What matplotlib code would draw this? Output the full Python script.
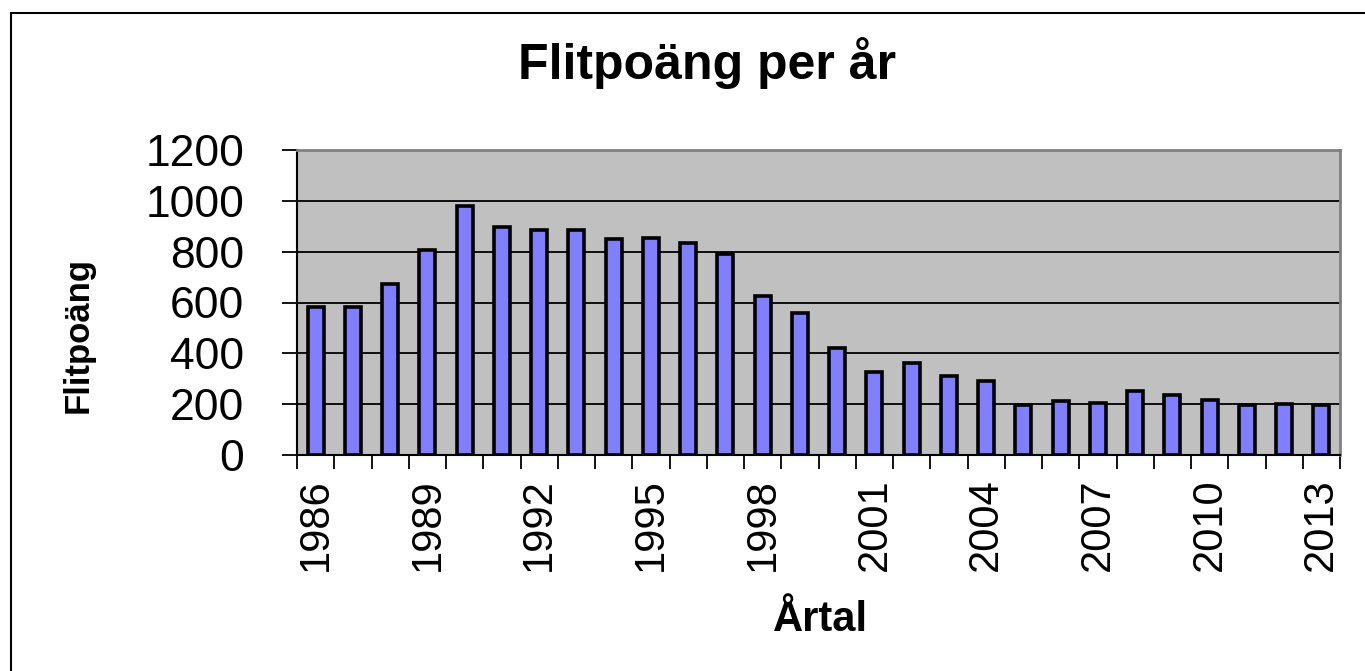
import matplotlib.pyplot as plt
import numpy as np
from matplotlib.patches import Rectangle

plt.rcParams['font.family'] = ['Liberation Sans', 'DejaVu Sans']

years = list(range(1986, 2014))
points = [583, 583, 672, 808, 979, 898, 884, 884, 848, 854,
          834, 792, 624, 558, 421, 328, 362, 311, 293, 195,
          213, 205, 252, 237, 218, 195, 201, 195]
yticks = [0, 200, 400, 600, 800, 1000, 1200]

fig = plt.figure(figsize=(13.65, 6.71), dpi=100)
ax = fig.add_axes([297 / 1365, 1 - 455 / 671, (1340 - 297) / 1365, (455 - 150) / 671])

x = np.arange(len(years))
ax.set_facecolor('#C0C0C0')
ax.bar(x, points, width=0.43, color='#8080FF', edgecolor='black', linewidth=2.6, zorder=3)

ax.set_xlim(-0.5, len(years) - 0.5)
ax.set_ylim(0, 1200)
ax.set_yticks(yticks)
ax.set_yticklabels([str(v) for v in yticks], fontsize=32)
ax.yaxis.grid(True, color='black', linewidth=1.3, zorder=1)
ax.set_axisbelow(True)
ax.tick_params(axis='y', length=11, width=1.3, pad=27, direction='out')

# labels centred on every third category, tick marks on category boundaries
ax.set_xticks(x[::3])
ax.set_xticklabels([str(y) for y in years[::3]], rotation=90, fontsize=30)
ax.tick_params(axis='x', which='major', length=0, pad=17)
ax.set_xticks(np.arange(-0.5, len(years)), minor=True)
ax.tick_params(axis='x', which='minor', length=10, width=1.3, direction='out')

for s in ['left', 'bottom']:
    ax.spines[s].set_color('black')
    ax.spines[s].set_linewidth(1.5)
for s in ['top', 'right']:
    ax.spines[s].set_color('#808080')
    ax.spines[s].set_linewidth(2)

fig.text(707 / 1365, 1 - 63 / 671, 'Flitpoäng per år', fontsize=36, fontweight='bold',
         ha='center', va='center')
fig.text(78 / 1365, 1 - 335 / 671, 'Flitpoäng', fontsize=25, fontweight='bold',
         rotation=90, ha='center', va='center')
fig.text(821 / 1365, 1 - 620 / 671, 'Årtal', fontsize=30, fontweight='bold',
         ha='center', va='center')

# outer chart border (right and bottom fall outside the image)
fig.patches.append(Rectangle((11 / 1365, -0.1), 1.2, 1 - 13 / 671 + 0.1,
                             transform=fig.transFigure, fill=False,
                             edgecolor='black', linewidth=1.5))

fig.savefig('out.png', dpi=100)
